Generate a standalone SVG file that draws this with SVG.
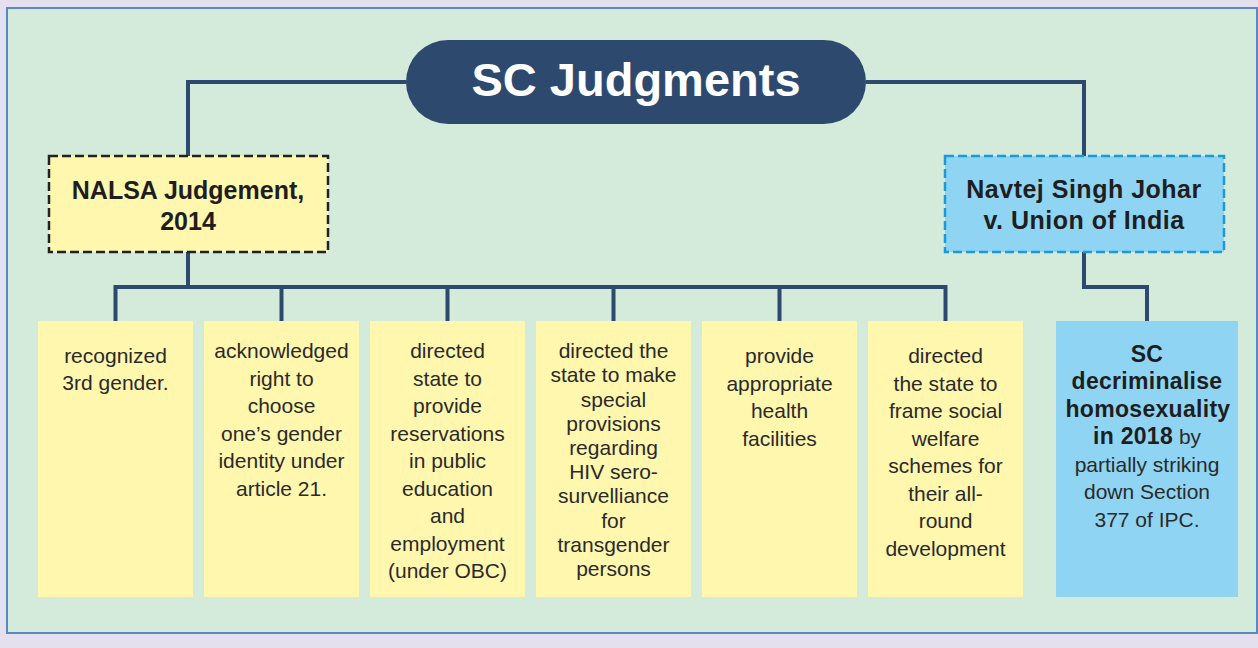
<svg xmlns="http://www.w3.org/2000/svg" width="1258" height="648" viewBox="0 0 1258 648">
<style>
.conn{fill:none;stroke:#2d4a6e;stroke-width:4;stroke-linejoin:miter}
.yb{fill:#fff7ae}
.bb{fill:#8fd5f3}
.t{font-family:"Liberation Sans",Arial,sans-serif;font-size:21px;fill:#2a2a2a;text-anchor:middle}
.hd{font-family:"Liberation Sans",Arial,sans-serif;font-size:25px;font-weight:bold;fill:#1e1e1e;text-anchor:middle}
.b{font-weight:bold;fill:#1e1e1e;font-size:23px;letter-spacing:0.3px}
</style>
<rect x="0" y="0" width="1258" height="648" fill="#e4e0ed"/>
<rect x="7" y="8" width="1250" height="625" fill="#d4eadb" stroke="#5b87c6" stroke-width="2"/>
<g id="connectors">
<path class="conn" d="M406 82 H188 V156"/>
<path class="conn" d="M866 82 H1084 V156"/>
<path class="conn" d="M188 252 V287"/>
<path class="conn" d="M115.5 321 V287 H945.5 V321"/>
<path class="conn" d="M281.5 287 V321 M447.5 287 V321 M613.5 287 V321 M779.5 287 V321"/>
<path class="conn" d="M1084 252 V287 H1147 V321"/>
</g>
<g id="title">
<rect x="406" y="40" width="460" height="84" rx="42" fill="#2d4a6e"/>
<text x="636" y="96" font-family="'Liberation Sans',Arial,sans-serif" font-size="47" font-weight="bold" fill="#ffffff" text-anchor="middle">SC Judgments</text>
</g>
<g id="nalsa">
<rect x="49" y="156" width="279" height="96" fill="#fff7ae" stroke="#222" stroke-width="2.5" stroke-dasharray="9 4"/>
<text class="hd" x="188" y="199">NALSA Judgement,</text>
<text class="hd" x="188" y="230">2014</text>
</g>
<g id="navtej">
<rect x="945" y="156" width="279" height="96" fill="#8fd5f3" stroke="#1a9ad9" stroke-width="2.5" stroke-dasharray="9 4"/>
<text class="hd" x="1084" y="198" letter-spacing="0.5">Navtej Singh Johar</text>
<text class="hd" x="1084" y="229" letter-spacing="0.5">v. Union of India</text>
</g>
<g id="n1">
<rect class="yb" x="38" y="321" width="155" height="276"/>
<text class="t" x="115.5" y="363">recognized</text>
<text class="t" x="115.5" y="390">3rd gender.</text>
</g>
<g id="n2">
<rect class="yb" x="204" y="321" width="155" height="276"/>
<text class="t" x="281.5" y="358">acknowledged</text>
<text class="t" x="281.5" y="386">right to</text>
<text class="t" x="281.5" y="413">choose</text>
<text class="t" x="281.5" y="441">one’s gender</text>
<text class="t" x="281.5" y="468">identity under</text>
<text class="t" x="281.5" y="496">article 21.</text>
</g>
<g id="n3">
<rect class="yb" x="370" y="321" width="155" height="276"/>
<text class="t" x="447.5" y="358">directed</text>
<text class="t" x="447.5" y="386">state to</text>
<text class="t" x="447.5" y="413">provide</text>
<text class="t" x="447.5" y="441">reservations</text>
<text class="t" x="447.5" y="468">in public</text>
<text class="t" x="447.5" y="496">education</text>
<text class="t" x="447.5" y="523">and</text>
<text class="t" x="447.5" y="551">employment</text>
<text class="t" x="447.5" y="578">(under OBC)</text>
</g>
<g id="n4">
<rect class="yb" x="536" y="321" width="155" height="276"/>
<text class="t" x="613.5" y="358">directed the</text>
<text class="t" x="613.5" y="382">state to make</text>
<text class="t" x="613.5" y="407">special</text>
<text class="t" x="613.5" y="431">provisions</text>
<text class="t" x="613.5" y="455">regarding</text>
<text class="t" x="613.5" y="479">HIV sero-</text>
<text class="t" x="613.5" y="503">survelliance</text>
<text class="t" x="613.5" y="528">for</text>
<text class="t" x="613.5" y="552">transgender</text>
<text class="t" x="613.5" y="576">persons</text>
</g>
<g id="n5">
<rect class="yb" x="702" y="321" width="155" height="276"/>
<text class="t" x="779.5" y="363">provide</text>
<text class="t" x="779.5" y="391">appropriate</text>
<text class="t" x="779.5" y="418">health</text>
<text class="t" x="779.5" y="446">facilities</text>
</g>
<g id="n6">
<rect class="yb" x="868" y="321" width="155" height="276"/>
<text class="t" x="945.5" y="363">directed</text>
<text class="t" x="945.5" y="391">the state to</text>
<text class="t" x="945.5" y="418">frame social</text>
<text class="t" x="945.5" y="446">welfare</text>
<text class="t" x="945.5" y="473">schemes for</text>
<text class="t" x="945.5" y="501">their all-</text>
<text class="t" x="945.5" y="528">round</text>
<text class="t" x="945.5" y="556">development</text>
</g>
<g id="n7">
<rect class="bb" x="1056" y="321" width="182" height="276"/>
<text class="t b" x="1147" y="362">SC</text>
<text class="t b" x="1147" y="389">decriminalise</text>
<text class="t b" x="1148" y="417">homosexuality</text>
<text class="t" x="1147" y="444"><tspan class="b">in 2018</tspan> by</text>
<text class="t" x="1147" y="472">partially striking</text>
<text class="t" x="1147" y="499">down Section</text>
<text class="t" x="1147" y="527">377 of IPC.</text>
</g>
</svg>
